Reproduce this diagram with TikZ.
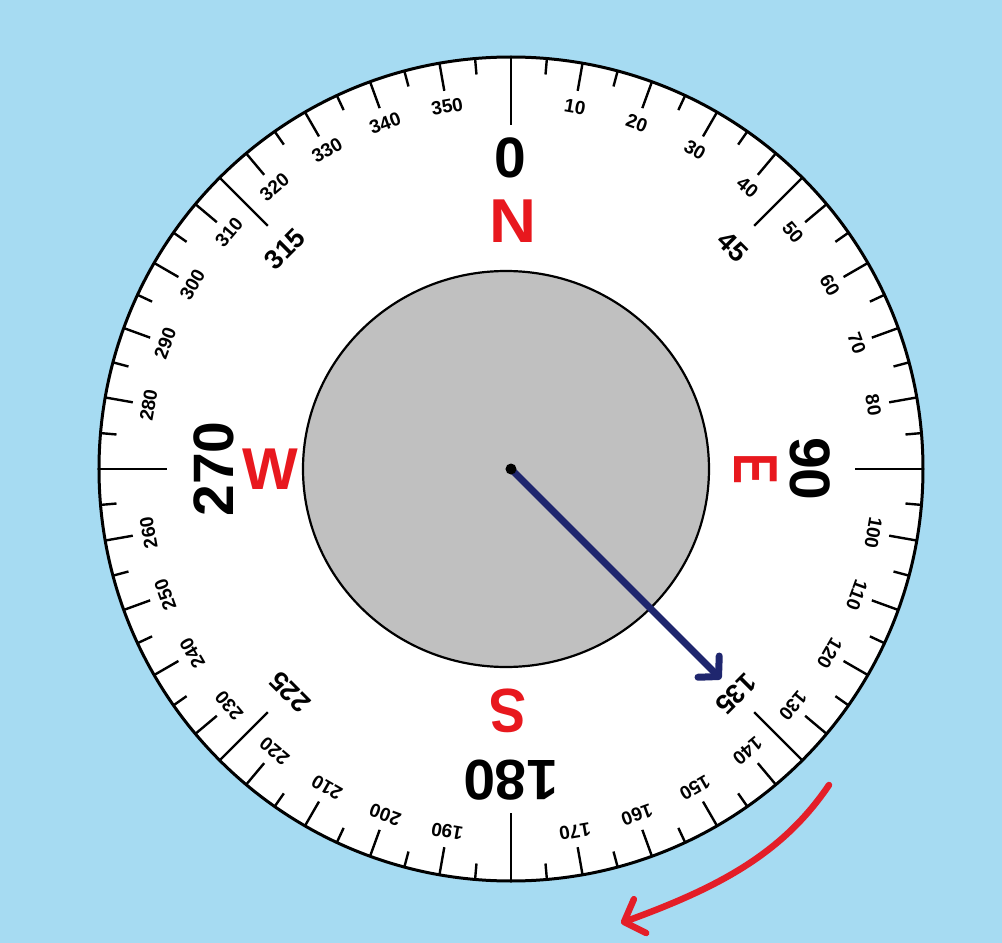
\documentclass[tikz,border=0pt]{standalone}
\usepackage{fontspec}
\setmainfont{Liberation Sans}
\usetikzlibrary{arrows.meta}
\definecolor{sky}{RGB}{166,219,242}
\definecolor{dialgray}{RGB}{192,192,192}
\definecolor{navy}{RGB}{31,38,110}
\definecolor{cred}{RGB}{232,24,30}
\definecolor{ared}{RGB}{228,30,40}
\begin{document}
\begin{tikzpicture}[x=1pt,y=1pt,
  tick/.style={line width=2.4pt, black},
  small/.style={inner sep=0, font=\fontsize{19}{19}\selectfont\bfseries},
  mid/.style={inner sep=0, font=\fontsize{27}{27}\selectfont\bfseries},
  big/.style={inner sep=0, font=\fontsize{57}{57}\selectfont\bfseries},
  letter/.style={inner sep=0, text=cred, font=\fontsize{62}{62}\selectfont\bfseries}]
\fill[sky] (-511,-474) rectangle (491,469);
\useasboundingbox (-511,-474) rectangle (491,469);
\node[circle, draw, line width=3pt, fill=white, minimum size=824pt, inner sep=0] (dial) at (0,0) {};
\foreach \bb in {0,5,...,355}{
  \pgfmathsetmacro\len{ifthenelse(mod(\bb,45)==0,68,ifthenelse(mod(\bb,10)==0,28,16))}
  \draw[tick] ({90-\bb}:412) -- ({90-\bb}:{412-\len});
}
\foreach \bb in {10,20,...,350}{
  \pgfmathtruncatemacro\mm{mod(\bb,90)}
  \ifnum\mm=0\relax\else
    \node[small, rotate=-\bb] at ({90-\bb}:368) {\bb};
  \fi
}
\node[mid, rotate=-45] (n45) at (222,222) {45};
\node[mid, rotate=-135] (n135) at (225,-225) {135};
\node[mid, rotate=135] (n225) at (-221,-223) {225};
\node[mid, rotate=45] (n315) at (-226,220) {315};
\node[big] (n0) at (-1,311) {0};
\node[big, rotate=-90] (n90) at (299,0) {90};
\node[big, rotate=180] (n180) at (0,-311) {180};
\node[big, rotate=90] (n270) at (-297,0) {270};
\node[letter] (N) at (2,248) {\scalebox{1.05}[1]{N}};
\node[letter, rotate=-90] (E) at (245,0) {\scalebox{0.75}[1]{E}};
\node[letter, rotate=180] (S) at (-3,-242) {\scalebox{0.9}[1]{S}};
\node[letter, font=\fontsize{59}{59}\selectfont\bfseries] (W) at (-241,0) {W};
\draw[fill=dialgray, line width=2.2pt] (-5,0) ellipse [x radius=203, y radius=198];
\coordinate (o) at (0,0);
\coordinate (tip) at (-45:297);
\draw[navy, line width=7pt, line cap=round, -{Straight Barb[length=14pt, width=30pt, round]}] (o) -- (tip);
\node[circle, fill=black, minimum size=11pt, inner sep=0] (c) at (o) {};
\coordinate (rs) at (318,-316);
\coordinate (re) at (110,-454);
\draw[ared, line width=6.5pt, line cap=round, -{Straight Barb[length=17pt, width=36pt, round]}] (rs) .. controls (272,-384) and (209,-418) .. (re);
\end{tikzpicture}
\end{document}
